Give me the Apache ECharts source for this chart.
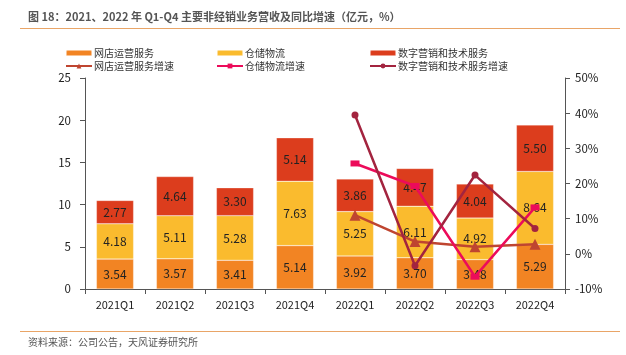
<!DOCTYPE html>
<html><head><meta charset="utf-8">
<script src="https://cdn.jsdelivr.net/npm/echarts@6/dist/echarts.min.js"></script>
<style>html,body{margin:0;padding:0;background:#fff}#c{width:626px;height:355px}</style>
</head><body><div id="c"></div>
<script>
var categories = ['2021Q1','2021Q2','2021Q3','2021Q4','2022Q1','2022Q2','2022Q3','2022Q4'];
var shopOps = [3.54, 3.57, 3.41, 5.14, 3.92, 3.70, 3.48, 5.29];
var warehouse = [4.18, 5.11, 5.28, 7.63, 5.25, 6.11, 4.92, 8.64];
var digital = [2.77, 4.64, 3.30, 5.14, 3.86, 4.47, 4.04, 5.50];
var shopGrowth = [null, null, null, null, 11.0, 3.5, 2.0, 2.7];
var warehouseGrowth = [null, null, null, null, 25.7, 19.3, -6.5, 13.2];
var digitalGrowth = [null, null, null, null, 39.5, -3.4, 22.4, 7.2];
var leftTicks = [0, 25, 5];
var rightTicks = [-10, 50, 10];

var chart = echarts.init(document.getElementById('c'));
var font = '"Noto Sans CJK SC", "Noto Sans", sans-serif';
var lbl = {show:true, position:'inside', color:'#222', fontSize:12, fontFamily:font, formatter:function(p){return p.value.toFixed(2);}};
var legText = {fontSize:10, color:'#333', fontFamily:font, padding:[0,0,0,-3]};
function leg(x, names){
  return {left:x, top:43, orient:'vertical', itemGap:3, itemWidth:26, itemHeight:6, textStyle:legText, data:names, selectedMode:false};
}
chart.setOption({
  animation:false,
  textStyle:{fontFamily:font},
  graphic:[
    {type:'text', left:28, top:11, style:{text:'图 18：2021、2022 年 Q1-Q4 主要非经销业务营收及同比增速（亿元，%）', fontSize:11, fontWeight:'bold', fill:'#555', fontFamily:font}},
    {type:'rect', left:20, top:28, shape:{width:600, height:1}, style:{fill:'#E9A567'}},
    {type:'rect', left:20, top:331, shape:{width:600, height:1}, style:{fill:'#E9A567'}},
    {type:'text', left:28, top:337, style:{text:'资料来源：公司公告，天风证券研究所', fontSize:10, fill:'#555', fontFamily:font}}
  ],
  legend:[
    leg(60, ['网店运营服务','网店运营服务增速']),
    leg(211, ['仓储物流','仓储物流增速']),
    leg(364, ['数字营销和技术服务','数字营销和技术服务增速'])
  ],
  grid:{left:85, right:61, top:78, bottom:66},
  xAxis:{type:'category', data:categories,
    axisLine:{lineStyle:{color:'#555'}}, axisTick:{show:true, lineStyle:{color:'#555'}},
    axisLabel:{color:'#222', fontSize:11, margin:10}},
  yAxis:[
    {type:'value', min:leftTicks[0], max:leftTicks[1], interval:leftTicks[2], splitLine:{show:false},
      axisLine:{show:true, lineStyle:{color:'#555'}}, axisTick:{show:true, lineStyle:{color:'#555'}},
      axisLabel:{color:'#222', fontSize:11.5, margin:14}},
    {type:'value', min:rightTicks[0], max:rightTicks[1], interval:rightTicks[2], splitLine:{show:false},
      axisLine:{show:true, lineStyle:{color:'#555'}}, axisTick:{show:true, lineStyle:{color:'#555'}},
      axisLabel:{color:'#222', fontSize:11.5, margin:10, formatter:'{value}%'}}
  ],
  series:[
    {name:'网店运营服务', type:'bar', stack:'a', data:shopOps, barWidth:'62%', itemStyle:{color:'#F28423', borderColor:'rgba(255,255,255,0.5)', borderWidth:0.5}, label:lbl},
    {name:'仓储物流', type:'bar', stack:'a', data:warehouse, itemStyle:{color:'#FABB2E', borderColor:'rgba(255,255,255,0.5)', borderWidth:0.5}, label:lbl},
    {name:'数字营销和技术服务', type:'bar', stack:'a', data:digital, itemStyle:{color:'#DC3D1D', borderColor:'rgba(255,255,255,0.5)', borderWidth:0.5}, label:lbl},
    {name:'网店运营服务增速', type:'line', yAxisIndex:1, data:shopGrowth, symbol:'triangle', symbolSize:11, lineStyle:{width:2.5, color:'#BF4530'}, itemStyle:{color:'#BF4530'}},
    {name:'仓储物流增速', type:'line', yAxisIndex:1, data:warehouseGrowth, symbol:'rect', symbolSize:[9,6], lineStyle:{width:2.5, color:'#EC0B5A'}, itemStyle:{color:'#EC0B5A'}},
    {name:'数字营销和技术服务增速', type:'line', yAxisIndex:1, data:digitalGrowth, symbol:'circle', symbolSize:7, lineStyle:{width:2.5, color:'#A3243F'}, itemStyle:{color:'#A3243F'}}
  ]
});
</script></body></html>
